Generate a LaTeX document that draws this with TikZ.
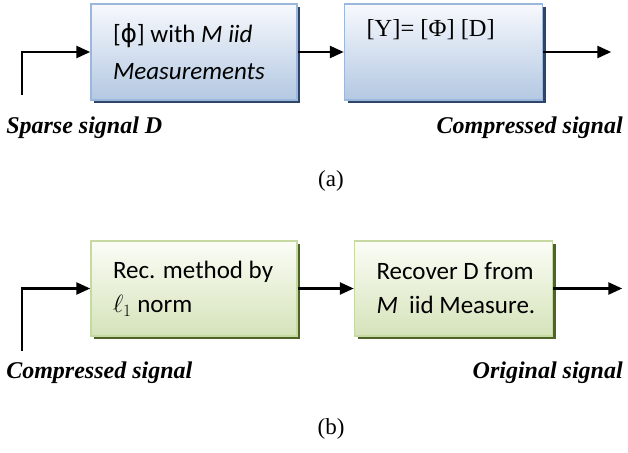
\documentclass[tikz,border=0pt]{standalone}
\usepackage{fontspec}
\setmainfont{Liberation Serif}
\newfontfamily\calibri{Carlito}
\newfontfamily\dejavu{DejaVu Sans}
\usetikzlibrary{shapes,arrows.meta}
\usetikzlibrary{positioning,shadows}
\definecolor{blueline}{HTML}{9BB7DB}
\definecolor{bluetop}{HTML}{F7F9FD}
\definecolor{bluebot}{HTML}{B3C8E2}
\definecolor{blueshade}{HTML}{2C4568}
\definecolor{greenline}{HTML}{C6D9A0}
\definecolor{greentop}{HTML}{FBFDF6}
\definecolor{greenbot}{HTML}{D5E3BA}
\definecolor{greenshade}{HTML}{4F6228}
\tikzstyle{block} = [draw=blueline, line width=1.5pt, rectangle, top color=bluetop, bottom color=bluebot, minimum height=96pt, inner xsep=22pt, align=flush left, font={\calibri\fontsize{25}{37}\selectfont}, drop shadow={shadow xshift=3pt, shadow yshift=-3pt, fill=blueshade, opacity=1}]
\tikzstyle{recblock} = [block, draw=greenline, top color=greentop, bottom color=greenbot, minimum height=95pt, font={\calibri\fontsize{25}{34}\selectfont}, drop shadow={shadow xshift=3pt, shadow yshift=-3pt, fill=greenshade, opacity=1}]
\tikzstyle{sig} = [inner sep=0pt, font={\fontsize{24}{28}\selectfont\bfseries\itshape}]
\tikzstyle{caption} = [inner sep=0pt, font={\fontsize{23}{28}\selectfont}]
\tikzstyle{input} = [coordinate]
\tikzstyle{output} = [coordinate]

\begin{document}
\begin{tikzpicture}[x=1pt, y=-1pt, >={Triangle[length=14pt, width=12pt]}, line width=2.5pt]
    \useasboundingbox (0,0) rectangle (628,452);

    % (a) sensing
    \node [block, text width=162pt] (sense) at (194,52) {\mbox{[{\dejavu ϕ}] with \textit{M iid}}\\\mbox{\textit{Measurements}}};
    \node [block, text width=154pt, right=46pt of sense, font={\fontsize{24.5}{37}\selectfont}] (product) {\mbox{[Y]= [Φ] [D]}\\\strut};
    \node [input] (inA) at (22,95) {};
    \node [output, right=68pt of product.east] (outA) {};

    \draw [->] (inA) |- (sense);
    \draw [->] (sense) -- (product);
    \draw [->] (product) -- (outA);

    \node [sig, anchor=base west] (sparse) at (5,133) {Sparse signal D};
    \node [sig, anchor=base east] (compA) at (624,133) {Compressed signal};
    \node [caption, anchor=base] (capA) at (331,186) {(a)};

    % (b) recovery
    \node [recblock, text width=162pt] (recmethod) at (194,288.5) {\mbox{Rec. method by}\\\mbox{$\ell_1$ norm}};
    \node [recblock, text width=154pt, right=56pt of recmethod] (recover) {\mbox{Recover D from}\\\mbox{\textit{M}\ \ iid Measure.}};
    \node [input] (inB) at (22,351) {};
    \node [output, right=69pt of recover.east] (outB) {};

    \draw [->] (inB) |- (recmethod);
    \draw [->] (recmethod) -- (recover);
    \draw [->] (recover) -- (outB);

    \node [sig, anchor=base west] (compB) at (5,378) {Compressed signal};
    \node [sig, anchor=base east] (orig) at (624,378) {Original signal};
    \node [caption, anchor=base] (capB) at (331,434) {(b)};
\end{tikzpicture}
\end{document}
